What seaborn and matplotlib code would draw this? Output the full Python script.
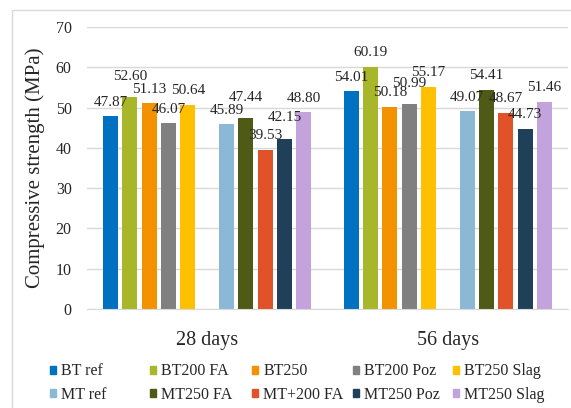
import pandas as pd
import matplotlib.pyplot as plt
import seaborn as sns
from matplotlib.patches import Patch, Rectangle

# Data
days = ['28 days', '56 days']
bt_series = ['BT ref', 'BT200 FA', 'BT250', 'BT200 Poz', 'BT250 Slag']
mt_series = ['MT ref', 'MT250 FA', 'MT+200 FA', 'MT250 Poz', 'MT250 Slag']
bt_values = [[47.87, 52.60, 51.13, 46.07, 50.64],
             [54.01, 60.19, 50.18, 50.99, 55.17]]
mt_values = [[45.89, 47.44, 39.53, 42.15, 48.80],
             [49.07, 54.41, 48.67, 44.73, 51.46]]

bt_colors = ['#0070C0', '#A8B62A', '#F39200', '#808080', '#FFC000']
mt_colors = ['#8BB8D4', '#4E5A16', '#E05228', '#1F4058', '#C2A3DB']

rows = []
for i, d in enumerate(days):
    for s, v in zip(bt_series, bt_values[i]):
        rows.append({'day': d, 'series': s, 'value': v})
    for s, v in zip(mt_series, mt_values[i]):
        rows.append({'day': d, 'series': s, 'value': v})
data = pd.DataFrame(rows)

# empty slot between the BT and MT groups
hue_order = bt_series + [' '] + mt_series
palette = dict(zip(bt_series + mt_series, bt_colors + mt_colors))
palette[' '] = 'white'

sns.set_style('white')
plt.rcParams['font.family'] = ['Liberation Serif', 'DejaVu Serif']

fig = plt.figure(figsize=(5.71, 4.08), dpi=100)
ax = fig.add_axes([87 / 571, 99 / 408, 481 / 571, 282 / 408])

sns.barplot(data=data, x='day', y='value', hue='series', hue_order=hue_order,
            order=days, palette=palette, width=0.884, gap=0.224,
            errorbar=None, legend=False, ax=ax, linewidth=0, saturation=1)

ax.set_ylim(0, 70)
ax.set_yticks(range(0, 71, 10))
ax.set_xlim(-0.5, 1.5)
ax.yaxis.grid(True, color='#D9D9D9', linewidth=1)
ax.set_axisbelow(True)
for side in ['left', 'right', 'top']:
    ax.spines[side].set_visible(False)
ax.spines['bottom'].set_color('#D9D9D9')
ax.tick_params(axis='y', length=0, pad=11, labelsize=11.5)
ax.tick_params(axis='x', length=0, pad=15.5, labelsize=14.5)
ax.set_xlabel('')
ax.set_ylabel('Compressive strength (MPa)', fontsize=15)
ax.yaxis.set_label_coords(-0.088, 0.5)

# value labels (a few lifted higher, as in the original)
lift = {'52.60': 21, '47.44': 20, '42.15': 22, '50.99': 20}
for p in ax.patches:
    h = p.get_height()
    if p.get_width() == 0 or h != h or h == 0:
        continue
    txt = f'{h:.2f}'
    ax.annotate(txt, (p.get_x() + p.get_width() / 2, h),
                xytext=(0, lift.get(txt, 14)), textcoords='offset pixels',
                ha='center', va='center', fontsize=11)

# legend: five columns, BT on the top row, MT below
col_x = [50, 150, 252, 353, 453]
for j in range(5):
    handles = [Patch(color=bt_colors[j], label=bt_series[j]),
               Patch(color=mt_colors[j], label=mt_series[j])]
    fig.legend(handles=handles, loc='center left',
               bbox_to_anchor=(col_x[j] / 571, (408 - 383) / 408),
               frameon=False, borderpad=0, borderaxespad=0,
               handlelength=0.4, handleheight=0.4, handletextpad=0.3,
               labelspacing=0.45, fontsize=11.5)

# chart border
fig.add_artist(Rectangle((12 / 571, -0.05), 1.0, 398 / 408 + 0.05,
                         transform=fig.transFigure, fill=False,
                         edgecolor='#D9D9D9', linewidth=1))

fig.savefig('out.png', dpi=100)
